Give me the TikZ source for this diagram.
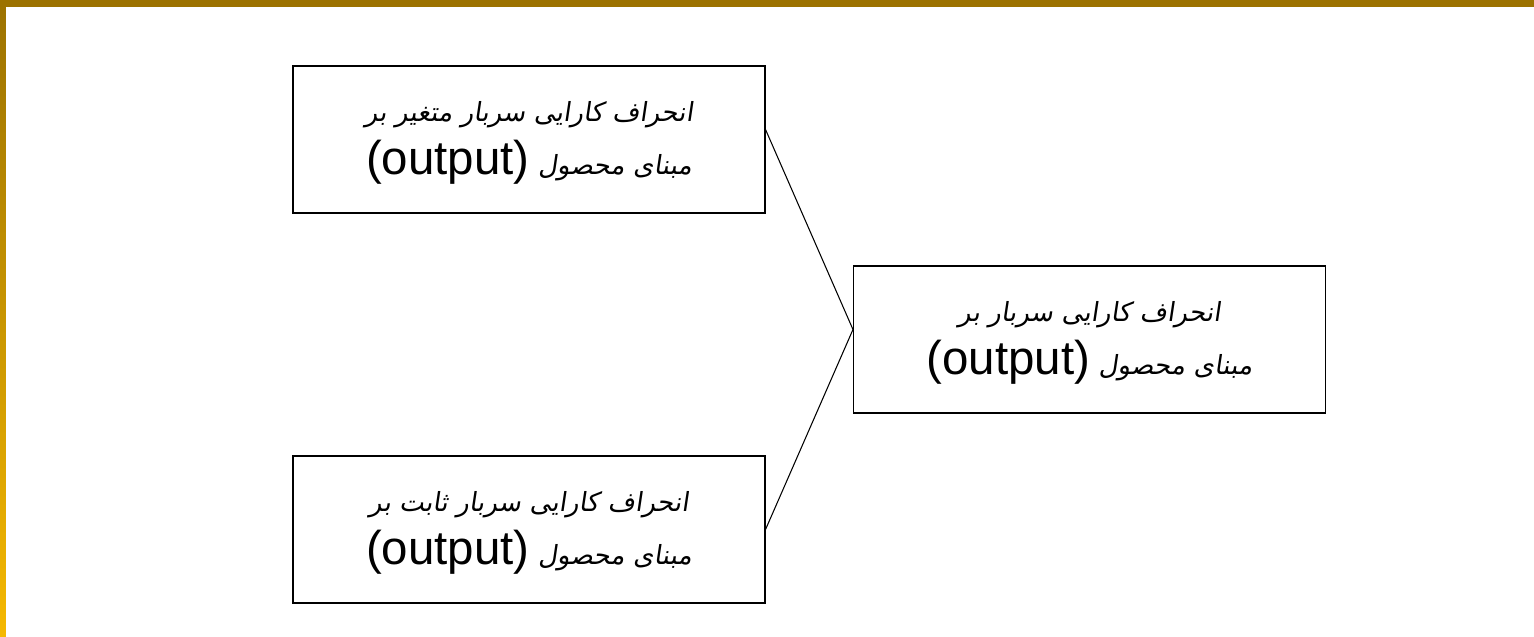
\documentclass[tikz,border=0pt]{standalone}
\usepackage{fontspec}
\setmainfont{Liberation Sans}
\newfontfamily\farsifont[Script=Arabic,FakeSlant=0.15]{DejaVu Sans}
\TeXXeTstate=1
\definecolor{Brown}{HTML}{9c7200}
\definecolor{Gold}{HTML}{f5b800}
% one right-to-left line
\newcommand{\fa}[1]{{\farsifont\fontsize{15}{30}\selectfont\beginR #1\endR}}
% two lines of a box, the second one always the same
\newcommand{\boxtext}[1]{\rule{0pt}{20pt}\fa{#1}\\
  \fa{مبنای محصول \beginL{\rmfamily\fontsize{27}{30}\selectfont(output)}\endL}\rule[-10pt]{0pt}{10pt}}

\begin{document}
\begin{tikzpicture}[line width=0.6pt,
box/.style={draw,minimum width=9.44cm,minimum height=2.94cm,align=center,inner sep=0pt},
nodes={font=\fontsize{27}{30}\selectfont}]
% frame: brown bar on top, shaded strip down the left side
\useasboundingbox (0,0) rectangle (30.68,-12.72);
\shade[top color=Brown,bottom color=Gold] (0,0) rectangle (0.12,-12.72);
\fill[Brown] (0,0) rectangle (30.68,-0.14);
\path
(10.58,-2.79) node[box] (upper) {\boxtext{انحراف کارایی سربار متغیر بر}}
(10.58,-10.59) node[box] (lower) {\boxtext{انحراف کارایی سربار ثابت بر}}
(21.79,-6.79) node[box] (result) {\boxtext{انحراف کارایی سربار بر}}
;
\draw ([yshift=2mm]upper.east) -- ([yshift=2mm]result.west) -- (lower.east);
\end{tikzpicture}
\end{document}
